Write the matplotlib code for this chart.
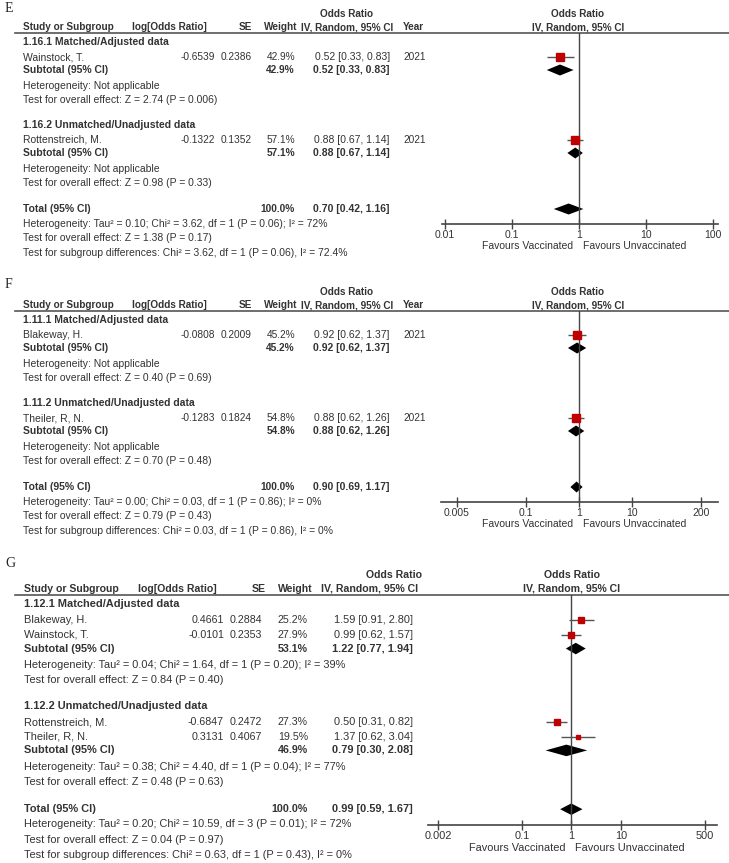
import math
import matplotlib
matplotlib.use('Agg')
import matplotlib.pyplot as plt
from matplotlib.ticker import FixedLocator, NullLocator

plt.rcParams['font.family'] = ['Liberation Sans', 'DejaVu Sans']

# ---- panel E ----
e_groups = ['1.16.1 Matched/Adjusted data', '1.16.2 Unmatched/Unadjusted data']
e_studies = ['Wainstock, T.', 'Rottenstreich, M.']
e_group_of = [0, 1]
e_logor = [-0.6539, -0.1322]
e_se = [0.2386, 0.1352]
e_weight = [42.9, 57.1]
e_or = [0.52, 0.88]
e_lo = [0.33, 0.67]
e_hi = [0.83, 1.14]
e_year = [2021, 2021]
e_sub_weight = [42.9, 57.1]
e_sub_or = [0.52, 0.88]
e_sub_lo = [0.33, 0.67]
e_sub_hi = [0.83, 1.14]
e_het = ['Heterogeneity: Not applicable', 'Heterogeneity: Not applicable']
e_test = ['Test for overall effect: Z = 2.74 (P = 0.006)', 'Test for overall effect: Z = 0.98 (P = 0.33)']
e_total = [0.70, 0.42, 1.16]
e_notes = ['Heterogeneity: Tau² = 0.10; Chi² = 3.62, df = 1 (P = 0.06); I² = 72%',
           'Test for overall effect: Z = 1.38 (P = 0.17)',
           'Test for subgroup differences: Chi² = 3.62, df = 1 (P = 0.06), I² = 72.4%']
e_ticks = [0.01, 0.1, 1, 10, 100]
e_ticklabels = ['0.01', '0.1', '1', '10', '100']

# ---- panel F ----
f_groups = ['1.11.1 Matched/Adjusted data', '1.11.2 Unmatched/Unadjusted data']
f_studies = ['Blakeway, H.', 'Theiler, R, N.']
f_group_of = [0, 1]
f_logor = [-0.0808, -0.1283]
f_se = [0.2009, 0.1824]
f_weight = [45.2, 54.8]
f_or = [0.92, 0.88]
f_lo = [0.62, 0.62]
f_hi = [1.37, 1.26]
f_year = [2021, 2021]
f_sub_weight = [45.2, 54.8]
f_sub_or = [0.92, 0.88]
f_sub_lo = [0.62, 0.62]
f_sub_hi = [1.37, 1.26]
f_het = ['Heterogeneity: Not applicable', 'Heterogeneity: Not applicable']
f_test = ['Test for overall effect: Z = 0.40 (P = 0.69)', 'Test for overall effect: Z = 0.70 (P = 0.48)']
f_total = [0.90, 0.69, 1.17]
f_notes = ['Heterogeneity: Tau² = 0.00; Chi² = 0.03, df = 1 (P = 0.86); I² = 0%',
           'Test for overall effect: Z = 0.79 (P = 0.43)',
           'Test for subgroup differences: Chi² = 0.03, df = 1 (P = 0.86), I² = 0%']
f_ticks = [0.005, 0.1, 1, 10, 200]
f_ticklabels = ['0.005', '0.1', '1', '10', '200']

# ---- panel G ----
g_groups = ['1.12.1 Matched/Adjusted data', '1.12.2 Unmatched/Unadjusted data']
g_studies = ['Blakeway, H.', 'Wainstock, T.', 'Rottenstreich, M.', 'Theiler, R, N.']
g_group_of = [0, 0, 1, 1]
g_logor = [0.4661, -0.0101, -0.6847, 0.3131]
g_se = [0.2884, 0.2353, 0.2472, 0.4067]
g_weight = [25.2, 27.9, 27.3, 19.5]
g_or = [1.59, 0.99, 0.50, 1.37]
g_lo = [0.91, 0.62, 0.31, 0.62]
g_hi = [2.80, 1.57, 0.82, 3.04]
g_sub_weight = [53.1, 46.9]
g_sub_or = [1.22, 0.79]
g_sub_lo = [0.77, 0.30]
g_sub_hi = [1.94, 2.08]
g_het = ['Heterogeneity: Tau² = 0.04; Chi² = 1.64, df = 1 (P = 0.20); I² = 39%',
         'Heterogeneity: Tau² = 0.38; Chi² = 4.40, df = 1 (P = 0.04); I² = 77%']
g_test = ['Test for overall effect: Z = 0.84 (P = 0.40)', 'Test for overall effect: Z = 0.48 (P = 0.63)']
g_total = [0.99, 0.59, 1.67]
g_notes = ['Heterogeneity: Tau² = 0.20; Chi² = 10.59, df = 3 (P = 0.01); I² = 72%',
           'Test for overall effect: Z = 0.04 (P = 0.97)',
           'Test for subgroup differences: Chi² = 0.63, df = 1 (P = 0.43), I² = 0%']
g_ticks = [0.002, 0.1, 1, 10, 500]
g_ticklabels = ['0.002', '0.1', '1', '10', '500']

W, H = 729, 863
TXT = '#333333'
RED = '#c00000'

fig = plt.figure(figsize=(W / 100, H / 100), dpi=100)
ax0 = fig.add_axes([0, 0, 1, 1])
ax0.set_xlim(0, W)
ax0.set_ylim(H, 0)
ax0.axis('off')

cols_ef = dict(name=23, logor=215, se=252, w=295, ci=390, year=403,
               h_logor=132, h_se=252, h_w=297, h_ci=393, h_or=347)
cols_g = dict(name=24, logor=224, se=262, w=308, ci=413, year=None,
              h_logor=138, h_se=266, h_w=313, h_ci=418, h_or=394)


def txt(x, y, s, fs, ha='left', bold=False):
    ax0.text(x, y, s, fontsize=fs, ha=ha, va='center', color=TXT,
             fontweight='bold' if bold else 'normal')


def panel(label, label_y, top, s, cols, forest, groups, group_of, studies, logor, se,
          weight, est, lo, hi, years, sub_w, sub_est, sub_lo, sub_hi, het, test,
          total, notes, ticks, ticklabels):
    fs = 7.5 * s      # body text
    fn = 7.3 * s      # numeric columns
    fh = 7.2 * s      # bold header row
    x0, x1, xmin, xmax, fc = forest
    ax0.text(5, label_y, label, fontsize=10, family='Liberation Serif',
             va='center', ha='left', color='#222222')
    # headers
    txt(cols['h_or'], top - 19 * s, 'Odds Ratio', fh, 'center', True)
    txt(fc, top - 19 * s, 'Odds Ratio', fh, 'center', True)
    txt(fc, top - 6 * s, 'IV, Random, 95% CI', fh, 'center', True)
    txt(cols['name'], top - 6 * s, 'Study or Subgroup', fh, bold=True)
    txt(cols['h_logor'], top - 6 * s, 'log[Odds Ratio]', fh, bold=True)
    txt(cols['h_se'], top - 6 * s, 'SE', fh, 'right', True)
    txt(cols['h_w'], top - 6 * s, 'Weight', fh, 'right', True)
    txt(cols['h_ci'], top - 6 * s, 'IV, Random, 95% CI', fh, 'right', True)
    if cols['year'] is not None:
        txt(cols['year'], top - 6 * s, 'Year', fh, bold=True)
    ax0.plot([15, W], [top, top], color='#555555', lw=1.2)

    marks = []   # (kind, y, est, lo, hi, weight)
    y = top + 9 * s
    for g, gname in enumerate(groups):
        txt(cols['name'], y, gname, fs, bold=True)
        y += 15 * s
        members = [i for i in range(len(studies)) if group_of[i] == g]
        for k, i in enumerate(members):
            if k > 0:
                y += 14 * s
            txt(cols['name'], y, studies[i], fs)
            txt(cols['logor'], y, '%.4f' % logor[i], fn, 'right')
            txt(cols['se'], y, '%.4f' % se[i], fn, 'right')
            txt(cols['w'], y, '%.1f%%' % weight[i], fn, 'right')
            txt(cols['ci'], y, '%.2f [%.2f, %.2f]' % (est[i], lo[i], hi[i]), fs, 'right')
            if cols['year'] is not None:
                txt(cols['year'], y, str(years[i]), fn)
            marks.append(('sq', y, est[i], lo[i], hi[i], weight[i]))
        y += 13 * s
        txt(cols['name'], y, 'Subtotal (95% CI)', fs, bold=True)
        txt(cols['w'], y, '%.1f%%' % sub_w[g], fn, 'right', True)
        txt(cols['ci'], y, '%.2f [%.2f, %.2f]' % (sub_est[g], sub_lo[g], sub_hi[g]), fs, 'right', True)
        marks.append(('dm', y, sub_est[g], sub_lo[g], sub_hi[g], None))
        y += 16 * s
        txt(cols['name'], y, het[g], fs)
        y += 14 * s
        txt(cols['name'], y, test[g], fs)
        y += 25 * s if g < len(groups) - 1 else 26 * s
    txt(cols['name'], y, 'Total (95% CI)', fs, bold=True)
    txt(cols['w'], y, '100.0%', fn, 'right', True)
    txt(cols['ci'], y, '%.2f [%.2f, %.2f]' % tuple(total), fs, 'right', True)
    marks.append(('dm', y, total[0], total[1], total[2], None))
    axis_y = y + 15 * s
    for note in notes:
        y += 14.5 * s
        txt(cols['name'], y, note, fs)

    # forest plot axes, y measured in pixel rows of the table
    ax = fig.add_axes([x0 / W, 1 - axis_y / H, (x1 - x0) / W, (axis_y - top) / H])
    ax.set_facecolor('none')
    ax.set_xscale('log')
    ax.set_xlim(xmin, xmax)
    ax.set_ylim(axis_y, top)
    for sp in ['top', 'left', 'right']:
        ax.spines[sp].set_visible(False)
    ax.spines['bottom'].set_color('#444444')
    ax.spines['bottom'].set_linewidth(1.2)
    ax.yaxis.set_visible(False)
    ax.xaxis.set_major_locator(FixedLocator(ticks))
    ax.xaxis.set_minor_locator(NullLocator())
    ax.set_xticklabels(ticklabels)
    ax.tick_params(axis='x', direction='inout', length=7, width=1, colors='#444444',
                   labelsize=fs, labelcolor=TXT, pad=1)
    ax.axvline(1, color='#444444', lw=1)
    h = 5.5 * s
    for kind, yy, e, l, hh, w in marks:
        if kind == 'sq':
            ax.plot([l, hh], [yy, yy], color='#555555', lw=1, solid_capstyle='butt')
            ax.plot([e], [yy], marker='s', ms=(w ** 0.5) * 0.8, color=RED, mec=RED, ls='none')
        else:
            ax.fill([l, e, hh, e], [yy, yy - h, yy, yy + h], color='black', lw=0)
    # favours labels either side of the null line
    line_x = x0 + (x1 - x0) * (0 - math.log10(xmin)) / (math.log10(xmax) - math.log10(xmin))
    fy = axis_y + 22 * s
    ax0.text(line_x - 6, fy, 'Favours Vaccinated', fontsize=fs, ha='right', va='center', color=TXT)
    ax0.text(line_x + 4, fy, 'Favours Unvaccinated', fontsize=fs, ha='left', va='center', color=TXT)


panel('E', 8, 33, 1.0, cols_ef, (442, 718, 0.0090, 119, 578),
      e_groups, e_group_of, e_studies, e_logor, e_se, e_weight, e_or, e_lo, e_hi, e_year,
      e_sub_weight, e_sub_or, e_sub_lo, e_sub_hi, e_het, e_test, e_total, e_notes,
      e_ticks, e_ticklabels)
panel('F', 284, 311, 1.0, cols_ef, (441, 718, 0.0025, 419, 578),
      f_groups, f_group_of, f_studies, f_logor, f_se, f_weight, f_or, f_lo, f_hi, f_year,
      f_sub_weight, f_sub_or, f_sub_lo, f_sub_hi, f_het, f_test, f_total, f_notes,
      f_ticks, f_ticklabels)
panel('G', 563, 595, 1.05, cols_g, (428, 717, 0.00126, 873, 572),
      g_groups, g_group_of, g_studies, g_logor, g_se, g_weight, g_or, g_lo, g_hi, None,
      g_sub_weight, g_sub_or, g_sub_lo, g_sub_hi, g_het, g_test, g_total, g_notes,
      g_ticks, g_ticklabels)

fig.savefig('out.png', dpi=100)
